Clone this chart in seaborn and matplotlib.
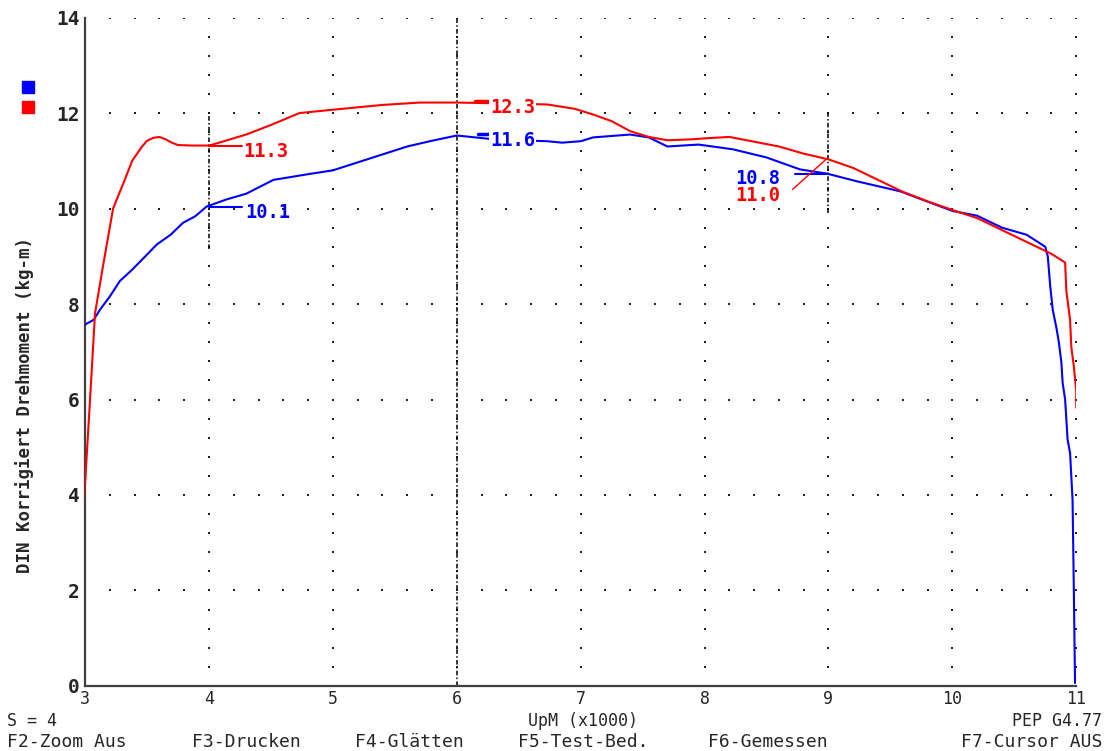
import pandas as pd
import seaborn as sns
import matplotlib.pyplot as plt
from matplotlib.patches import Rectangle
import numpy as np

# Torque curves (rpm x1000, kg-m)
red_rpm = [2.99, 3.016, 3.04, 3.08, 3.145, 3.226, 3.32, 3.38, 3.46, 3.5, 3.55, 3.6, 3.65,
           3.7, 3.75, 3.86, 4.0, 4.03, 4.3, 4.5, 4.73, 5.0, 5.4, 5.7, 6.0, 6.4, 6.73, 6.95,
           7.1, 7.25, 7.4, 7.55, 7.7, 7.9, 8.0, 8.2, 8.4, 8.6, 8.8, 9.0, 9.2, 9.4, 9.6, 9.8,
           10.0, 10.2, 10.4, 10.6, 10.8, 10.91, 10.92, 10.95, 10.96, 10.98, 11.0, 11.0]
red_torque = [3.8, 4.95, 6.0, 7.8, 8.8, 10.0, 10.6, 11.0, 11.3, 11.42, 11.48, 11.5, 11.45,
              11.38, 11.33, 11.32, 11.32, 11.34, 11.55, 11.75, 12.0, 12.07, 12.17, 12.22, 12.22, 12.2, 12.18, 12.09,
              11.97, 11.83, 11.62, 11.5, 11.43, 11.45, 11.47, 11.5, 11.4, 11.3, 11.15, 11.03, 10.85, 10.6, 10.35, 10.15,
              9.97, 9.8, 9.55, 9.3, 9.05, 8.87, 8.27, 7.67, 7.1, 6.7, 6.17, 5.83]

blue_rpm = [3.0, 3.07, 3.12, 3.2, 3.28, 3.38, 3.46, 3.58, 3.69, 3.79, 3.89, 3.98,
            4.14, 4.3, 4.52, 4.8, 5.0, 5.3, 5.6, 5.8, 6.0, 6.3, 6.73, 6.85, 7.0, 7.1,
            7.4, 7.55, 7.7, 7.95, 8.12, 8.23, 8.5, 8.77, 8.99, 9.23, 9.58, 10.0, 10.2,
            10.4, 10.6, 10.75, 10.77, 10.79, 10.81, 10.84, 10.86, 10.88, 10.89, 10.91,
            10.92, 10.93, 10.95, 10.96, 10.97, 10.98, 10.99]
blue_torque = [7.57, 7.67, 7.88, 8.16, 8.48, 8.72, 8.93, 9.25, 9.45, 9.7, 9.84, 10.04,
               10.19, 10.31, 10.6, 10.72, 10.8, 11.05, 11.3, 11.42, 11.53, 11.45, 11.41, 11.38, 11.41, 11.49,
               11.55, 11.49, 11.3, 11.34, 11.28, 11.24, 11.07, 10.82, 10.73, 10.57, 10.36, 9.95, 9.85,
               9.6, 9.45, 9.2, 9.0, 8.37, 7.88, 7.5, 7.19, 6.77, 6.35, 6.0,
               5.58, 5.16, 4.88, 4.39, 3.9, 2.08, 0.06]

x_ticks = [3, 4, 5, 6, 7, 8, 9, 10, 11]
y_ticks = [0, 2, 4, 6, 8, 10, 12, 14]

footer_keys = ['F2-Zoom Aus', 'F3-Drucken', 'F4-Glätten', 'F5-Test-Bed.', 'F6-Gemessen', 'F7-Cursor AUS']

df = pd.concat([
    pd.DataFrame({'rpm': blue_rpm, 'torque': blue_torque, 'run': 'blue'}),
    pd.DataFrame({'rpm': red_rpm, 'torque': red_torque, 'run': 'red'}),
])

sns.set_style('white')
plt.rcParams['font.family'] = ['DejaVu Sans Mono', 'DejaVu Sans']

fig = plt.figure(figsize=(11.05, 7.51), dpi=100)
ax = fig.add_axes([0.077, 0.0866, 0.897, 0.89])

# dotted grid like the dyno screen
for gy in range(2, 15, 2):
    gx = np.arange(3.2, 11.01, 0.2)
    ax.scatter(gx, np.full_like(gx, gy), s=3, marker='s', color='#202020', linewidths=0, zorder=1)
for gx in range(4, 12):
    gy = np.arange(0.4, 14.01, 0.4)
    ax.scatter(np.full_like(gy, gx), gy, s=3, marker='s', color='#202020', linewidths=0, zorder=1)

# cursor lines
cur = dict(color='black', lw=1.1, ls=(0, (3, 1.5, 1, 1.5)), zorder=2)
ax.plot([4, 4], [9.15, 12.05], **cur)
ax.plot([6, 6], [0, 14], **cur)
ax.plot([9, 9], [9.9, 12.05], **cur)

sns.lineplot(data=df, x='rpm', y='torque', hue='run', palette={'blue': '#0000ff', 'red': '#ff0000'},
             sort=False, estimator=None, legend=False, linewidth=1.5, ax=ax, zorder=3)

# cursor readouts
lbl = dict(fontsize=13.5, fontweight='bold', va='center', ha='left', zorder=5)
ax.plot([4.0, 4.27], [11.32, 11.32], color='#ff0000', lw=1.5, zorder=4)
ax.text(4.28, 11.2, '11.3', color='#ff0000', **lbl)
ax.plot([4.0, 4.27], [10.04, 10.04], color='#0000ff', lw=1.5, zorder=4)
ax.text(4.29, 9.92, '10.1', color='#0000ff', **lbl)

ax.text(6.27, 12.12, '12.3', color='#ff0000', bbox=dict(fc='white', ec='none', pad=0.5), **lbl)
ax.plot([6.15, 6.27], [12.26, 12.26], color='#ff0000', lw=2.5, zorder=4)
ax.text(6.27, 11.42, '11.6', color='#0000ff', bbox=dict(fc='white', ec='none', pad=0.5), **lbl)
ax.plot([6.17, 6.29], [11.56, 11.56], color='#0000ff', lw=2.5, zorder=4)

ax.text(8.25, 10.63, '10.8', color='#0000ff', **lbl)
ax.plot([8.73, 8.98], [10.73, 10.73], color='#0000ff', lw=1.5, zorder=4)
ax.text(8.25, 10.27, '11.0', color='#ff0000', **lbl)
ax.plot([8.71, 8.98], [10.4, 11.03], color='#ff0000', lw=1, zorder=4)

ax.set_xlim(3, 11)
ax.set_ylim(0, 14)
ax.set_xticks(x_ticks)
ax.set_yticks(y_ticks)
ax.set_xticklabels([str(t) for t in x_ticks], fontsize=12)
ax.set_yticklabels([str(t) for t in y_ticks], fontsize=14, fontweight='bold')
ax.tick_params(length=0, pad=4)
ax.tick_params(axis='x', pad=3)
ax.set_xlabel('')
ax.set_ylabel('DIN Korrigiert Drehmoment (kg-m)', fontsize=12.5, fontweight='bold')
ax.yaxis.set_label_coords(-0.052, 0.42)
for s in ['top', 'right']:
    ax.spines[s].set_visible(False)
for s in ['left', 'bottom']:
    ax.spines[s].set_color('#404040')
    ax.spines[s].set_linewidth(1.6)

# legend squares
fig.patches.append(Rectangle((22 / 1105, 1 - 93 / 751), 12 / 1105, 12 / 751,
                             transform=fig.transFigure, color='#0000ff'))
fig.patches.append(Rectangle((22 / 1105, 1 - 113 / 751), 12 / 1105, 12 / 751,
                             transform=fig.transFigure, color='#ff0000'))

# status lines
fig.text(7 / 1105, 1 - 721 / 751, 'S = 4', fontsize=12, va='center')
fig.text(583 / 1105, 1 - 721 / 751, 'UpM (x1000)', fontsize=12, va='center', ha='center')
fig.text(1102 / 1105, 1 - 721 / 751, 'PEP G4.77', fontsize=12, va='center', ha='right')
key_x = [7, 192, 355, 518, 708, 940]
for kx, key in zip(key_x, footer_keys):
    ha = 'right' if key == footer_keys[-1] else 'left'
    px = 1102 if ha == 'right' else kx
    fig.text(px / 1105, 1 - 742 / 751, key, fontsize=13, va='center', ha=ha)

fig.savefig('out.png', dpi=100)
